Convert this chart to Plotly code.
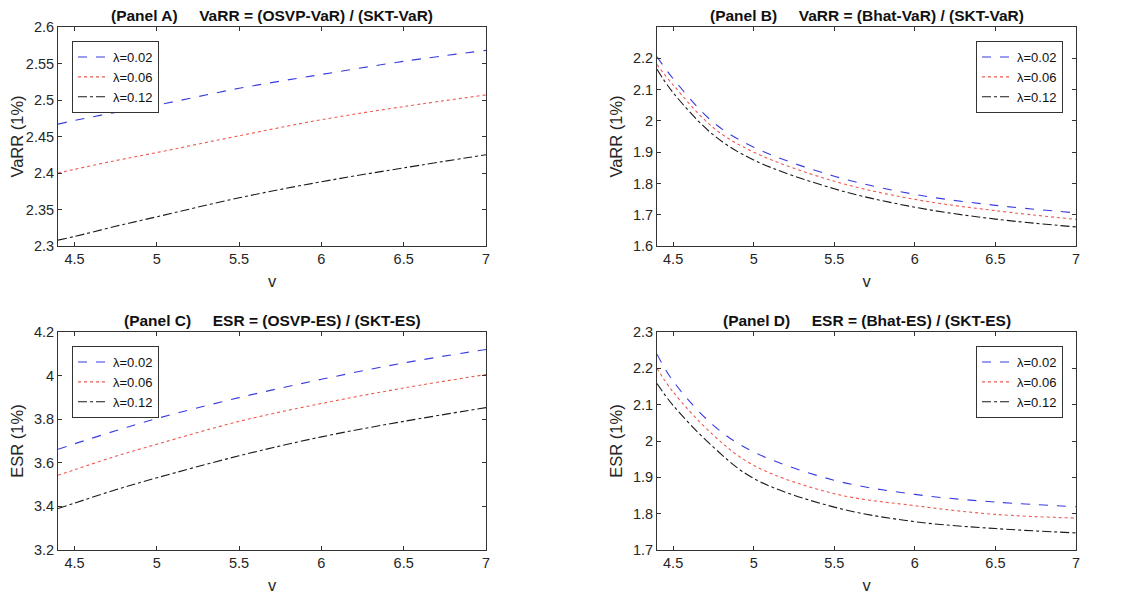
import plotly.graph_objects as go

v = [4.4, 4.5, 4.75, 5.0, 5.5, 6.0, 6.5, 7.0]
lambdas = ["λ=0.02", "λ=0.06", "λ=0.12"]

# Panel A: VaRR = (OSVP-VaR)/(SKT-VaR)
a_002 = [2.467, 2.472, 2.483, 2.493, 2.516, 2.535, 2.553, 2.568]
a_006 = [2.400, 2.405, 2.417, 2.428, 2.451, 2.473, 2.491, 2.507]
a_012 = [2.308, 2.313, 2.327, 2.340, 2.366, 2.388, 2.407, 2.425]
# Panel B: VaRR = (Bhat-VaR)/(SKT-VaR)
b_002 = [2.205, 2.135, 1.995, 1.916, 1.823, 1.765, 1.730, 1.706]
b_006 = [2.180, 2.115, 1.978, 1.900, 1.807, 1.749, 1.713, 1.685]
b_012 = [2.165, 2.090, 1.955, 1.875, 1.783, 1.724, 1.686, 1.661]
# Panel C: ESR = (OSVP-ES)/(SKT-ES)
c_002 = [3.662, 3.687, 3.747, 3.803, 3.899, 3.983, 4.058, 4.120]
c_006 = [3.543, 3.568, 3.630, 3.685, 3.790, 3.872, 3.943, 4.005]
c_012 = [3.390, 3.415, 3.476, 3.531, 3.632, 3.719, 3.790, 3.853]
# Panel D: ESR = (Bhat-ES)/(SKT-ES)
d_002 = [2.239, 2.165, 2.043, 1.970, 1.892, 1.853, 1.832, 1.819]
d_006 = [2.200, 2.135, 2.016, 1.933, 1.855, 1.822, 1.798, 1.788]
d_012 = [2.158, 2.098, 1.983, 1.897, 1.818, 1.778, 1.759, 1.747]

titles = ["<b>(Panel A)     VaRR = (OSVP-VaR) / (SKT-VaR)</b>",
          "<b>(Panel B)     VaRR = (Bhat-VaR) / (SKT-VaR)</b>",
          "<b>(Panel C)     ESR = (OSVP-ES) / (SKT-ES)</b>",
          "<b>(Panel D)     ESR = (Bhat-ES) / (SKT-ES)</b>"]
ylabels = ["VaRR (1%)", "VaRR (1%)", "ESR (1%)", "ESR (1%)"]
yranges = [[2.3, 2.6], [1.6, 2.3], [3.2, 4.2], [1.7, 2.3]]
yticks = [[2.3, 2.35, 2.4, 2.45, 2.5, 2.55, 2.6],
          [1.6, 1.7, 1.8, 1.9, 2.0, 2.1, 2.2],
          [3.2, 3.4, 3.6, 3.8, 4.0, 4.2],
          [1.7, 1.8, 1.9, 2.0, 2.1, 2.2, 2.3]]
xticks = [4.5, 5, 5.5, 6, 6.5, 7]
panels = [[a_002, a_006, a_012], [b_002, b_006, b_012],
          [c_002, c_006, c_012], [d_002, d_006, d_012]]

OFF = 8  # page body margin
W, H = 1132 - OFF, 595 - OFF
boxes = [(58, 486, 27, 246), (657, 1076, 27, 246),
         (58, 486, 332, 550), (657, 1076, 332, 550)]
styles = [("#3a3ae0", "dash"), ("#ee5a50", "dot"), ("#1a1a1a", "dashdot")]
font = "Liberation Sans, Arial, sans-serif"

fig = go.Figure()
layout = dict(width=W, height=H, margin=dict(l=0, r=0, t=0, b=0),
              paper_bgcolor="white", plot_bgcolor="white",
              font=dict(family=font, size=14, color="#262626"),
              annotations=[])

def px(p):
    return (p - OFF) / W

def py(p):
    return 1 - (p - OFF) / H

for i in range(4):
    x0, x1, y0, y1 = boxes[i]
    sx = "" if i == 0 else str(i + 1)
    leg = "legend" if i == 0 else "legend" + str(i + 1)
    for j in range(3):
        col, dash = styles[j]
        fig.add_trace(go.Scatter(x=v, y=panels[i][j], mode="lines", name=lambdas[j],
                                 line=dict(color=col, dash=dash, width=1.1, shape="spline"),
                                 xaxis="x" + sx, yaxis="y" + sx, legend=leg))
    axcommon = dict(showline=True, linecolor="#333333", linewidth=1, mirror="ticks",
                    ticks="inside", ticklen=4, tickcolor="#333333", showgrid=False,
                    zeroline=False, automargin=False,
                    tickfont=dict(size=14.5, color="#262626"))
    layout["xaxis" + sx] = dict(domain=[px(x0), px(x1)], range=[4.4, 7],
                                tickvals=xticks, ticktext=["4.5", "5", "5.5", "6", "6.5", "7"],
                                anchor="y" + sx,
                                title=dict(text="v", font=dict(size=16.5), standoff=9), **axcommon)
    layout["yaxis" + sx] = dict(domain=[py(y1), py(y0)], range=yranges[i],
                                tickvals=yticks[i], anchor="x" + sx,
                                title=dict(text=ylabels[i], font=dict(size=16.5), standoff=6),
                                **axcommon)
    if i % 2 == 0:
        lx, xanc = px(x0 + 14), "left"
    else:
        lx, xanc = px(x1 - 13), "right"
    layout[leg] = dict(x=lx, xanchor=xanc, y=py(y0 + 14), yanchor="top",
                       xref="paper", yref="paper",
                       bgcolor="white", bordercolor="#333333", borderwidth=1,
                       font=dict(size=13, color="#111111"), tracegroupgap=0,
                       itemwidth=30)
    layout["annotations"].append(dict(text=titles[i], x=px((x0 + x1) / 2), y=py(y0 - 12),
                                      xref="paper", yref="paper", showarrow=False,
                                      xanchor="center", yanchor="middle",
                                      font=dict(size=15.5, color="#111111")))

fig.update_layout(**layout)
fig.write_html("out.html")
